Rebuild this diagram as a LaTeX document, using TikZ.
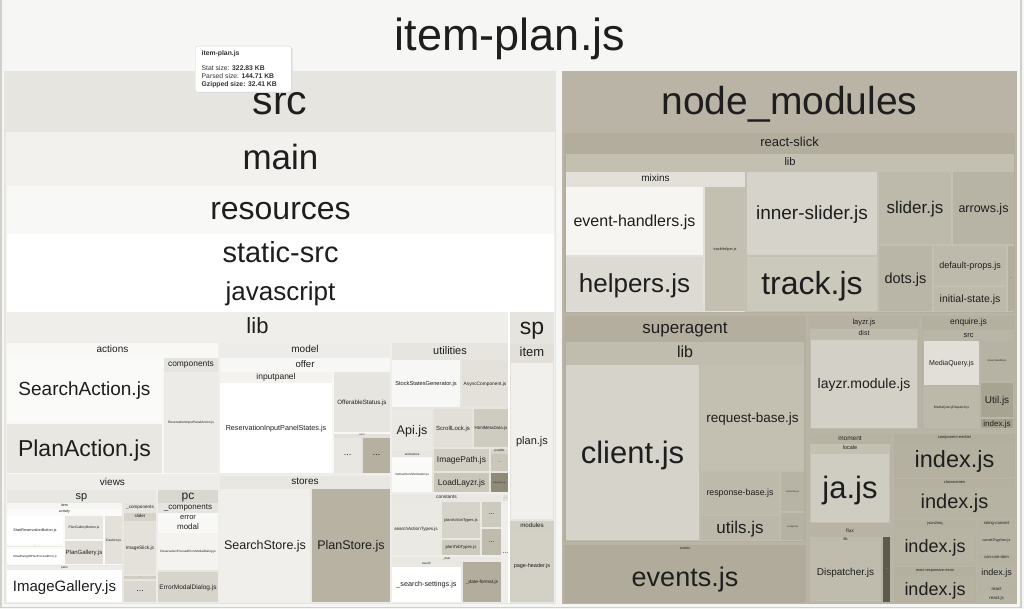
\documentclass[tikz,border=0pt]{standalone}
\usepackage{fontspec}
\setmainfont{Liberation Sans}
\newcommand\dc[2]{\definecolor{#1}{HTML}{#2}}
\dc{rootC}{F6F6F4}\dc{bordC}{CFCFCB}\dc{txt}{1E1E1E}
\dc{srcC}{E6E5E0}\dc{mainC}{F2F1EE}\dc{resC}{F8F8F6}\dc{ssC}{FFFFFF}\dc{jsC}{FFFFFF}
\dc{libC}{EFEEEA}\dc{spC}{E5E4DF}
\dc{actC}{F8F8F6}\dc{saC0}{FAFAF8}\dc{paC}{E8E7E2}\dc{compC}{E5E4DF}\dc{ripaC}{ECEBE7}
\dc{viewsC}{EEEDE9}\dc{vspC}{E8E7E2}\dc{itemC}{F5F5F2}\dc{activC}{FAFAF8}\dc{ddC}{EAE9E4}
\dc{pgbC}{E7E6E0}\dc{pgC}{E0DED7}\dc{cautC}{E3E1DA}\dc{partsC}{EDECE8}
\dc{vcompC}{E6E5E0}\dc{sliderC}{D6D3CA}\dc{islickC}{E3E1DA}\dc{dd2C}{D1CEC4}\dc{dd3C}{DAD8D0}
\dc{pcC}{D9D7CF}\dc{pccompC}{E6E5E0}\dc{pcerrC}{F8F8F6}\dc{pcmodalC}{F8F8F6}\dc{rpemdC}{F4F3F0}\dc{emdC}{D7D4CB}
\dc{modelC}{EDECE8}\dc{offerC}{F7F7F5}\dc{inputpC}{F3F2EF}\dc{ofsC}{E6E5E0}\dc{merrC}{E2E0D9}\dc{md1C}{E8E7E2}\dc{md2C}{B5B09F}
\dc{storesC}{E8E7E2}\dc{ssCC}{F0EFEB}\dc{psC}{B7B2A2}
\dc{utilC}{E6E5E0}\dc{ssgC}{F7F7F5}\dc{acC}{E3E1DA}\dc{apiC}{EAE9E4}\dc{animC}{E7E6E0}\dc{vsaC}{FAFAF8}
\dc{slC}{E1DFD8}\dc{hmdC}{CECBC0}\dc{ipC}{D1CEC3}\dc{llC}{C9C6BA}\dc{polyC}{D6D3CA}\dc{pdC}{CAC6BA}\dc{afC}{8F8B78}
\dc{constC}{E9E8E3}\dc{satC}{EAE9E4}\dc{patC}{D6D3CA}\dc{pttC}{CCC9BE}\dc{cd1C}{CCC9BE}\dc{cd2C}{BFBBAD}\dc{cd3C}{E0DED7}
\dc{datebC}{E9E8E3}\dc{searchC}{E9E8E3}\dc{dfmtC}{B2AD9C}
\dc{ritemC}{E2E0D9}\dc{planjsC}{F1F0EC}\dc{modsC}{D2CFC5}\dc{phC}{D3D0C6}
\dc{nmC}{B9B4A5}\dc{rsC}{B2AD9D}\dc{rslibC}{C3C0B2}\dc{mixC}{E2E0D8}\dc{ehC}{F6F5F2}\dc{helpC}{DCDAD2}\dc{thC}{C3C0B2}
\dc{islC}{D5D3CA}\dc{trkC}{CBC8BC}\dc{sldC}{BDB9AB}\dc{arrC}{B8B4A5}\dc{dotsC}{BAB6A7}\dc{dpC}{BDB9AB}\dc{istC}{BDB9AB}\dc{rsdC}{B3AFA0}
\dc{saaC}{B3AE9E}\dc{salibC}{C0BDAE}\dc{clC}{D5D3CA}\dc{rbC}{C3C0B2}\dc{rsbC}{BEBAAB}\dc{utC}{BCB8A9}\dc{isfC}{B8B4A5}\dc{isoC}{B6B2A3}
\dc{evC}{B0AB9A}\dc{evjsC}{B0AB9A}
\dc{lzC}{B6B2A3}\dc{distC}{BFBBAD}\dc{lzmC}{D3D1C7}
\dc{enqC}{B4B0A0}\dc{esrcC}{BAB6A7}\dc{mqC}{E1DFD8}\dc{qhC}{B7B3A4}\dc{mqdC}{BCB8AA}\dc{utlC}{A8A492}\dc{eidxC}{A3A08D}
\dc{momC}{B7B3A3}\dc{locC}{C4C1B3}\dc{jaC}{CFCCC2}
\dc{ceC}{B3AF9E}\dc{ceidxC}{B5B1A1}\dc{cnC}{B5B1A1}\dc{cnidxC}{B7B3A3}
\dc{fluxC}{B8B4A5}\dc{flibC}{BEBAAC}\dc{dispC}{BFBBAD}\dc{fdC}{5D5A4C}
\dc{jmC}{B6B2A2}\dc{jmidxC}{B8B4A4}\dc{rrmC}{B4B09F}\dc{rrmidxC}{B6B2A2}
\dc{scC}{B6B2A2}\dc{c2hC}{B8B4A5}\dc{cudC}{B6B2A2}\dc{cudidxC}{B8B4A5}\dc{rctC}{B7B3A3}\dc{rjsC}{B9B5A6}
\newcommand\gp{0.6}
\newcommand\bl{0.34}
\newcommand\fs[1]{\fontsize{#1}{#1}\selectfont}
% leaf: name, x1, y1, x2, y2, colour, font size, text
\newcommand\tmleaf[8]{\fill[#6] ({#2+\gp},{#3+\gp}) rectangle ({#4-\gp},{#5-\gp});
  \node[lbl,anchor=base,font=\fs{#7}] (#1) at ({(#2+#4)/2},{(#3+#5)/2+\bl*#7}) {#8};}
% leaf whose label is "...": name, x1, y1, x2, y2, colour, font size
\newcommand\tmdots[7]{\fill[#6] ({#2+\gp},{#3+\gp}) rectangle ({#4-\gp},{#5-\gp});
  \node[lbl,anchor=base,font=\fs{#7}] (#1) at ({(#2+#4)/2},{(#3+#5)/2+0.05*#7}) {...};}
% folder: name, x1, y1, x2, y2, colour, header height, font size, text
\newcommand\tmdir[9]{\fill[#6] ({#2+\gp},{#3+\gp}) rectangle ({#4-\gp},{#5-\gp});
  \node[lbl,anchor=base,font=\fs{#8}] (#1) at ({(#2+#4)/2},{#3+#7/2+\bl*#8}) {#9};}
\tikzset{lbl/.style={inner sep=0pt,text=txt,align=center}}
\begin{document}
\begin{tikzpicture}[x=1pt,y=-1pt]
\useasboundingbox (0,0) rectangle (1024,609);
\fill[rootC] (0,0) rectangle (1024,609);
\draw[bordC,line width=1.5pt] (1,-2) rectangle (1021,607.5);
\node[lbl,anchor=base,font=\fs{45}] (title) at (510,51) {item-plan.js};
% ---------------- src ----------------
\tmdir{src}{3}{70}{557}{605}{srcC}{62}{41}{src}
\tmdir{main}{5}{131}{556}{604}{mainC}{54}{35}{main}
\tmdir{res}{6}{185}{555}{604}{resC}{48}{32}{resources}
\tmdir{sstat}{6}{233}{555}{604}{ssC}{40}{29}{static-src}
\tmdir{jsd}{6}{272}{555}{604}{jsC}{40}{26}{javascript}
\tmdir{lib}{6}{311}{509}{604}{libC}{31}{22}{lib}
\tmdir{spr}{509}{311}{555}{604}{spC}{32}{23}{sp}
% actions
\tmdir{actions}{6}{342}{219}{475}{actC}{14}{10}{actions}
\tmleaf{sact}{6}{356}{163}{423}{saC0}{19}{SearchAction.js}
\tmleaf{pact}{6}{423}{163}{474}{paC}{23}{PlanAction.js}
\tmdir{comps}{163}{357}{219}{474}{compC}{14}{8.4}{components}
\tmleaf{ripa}{163}{371}{219}{474}{ripaC}{3.3}{ReservationInputPanelAction.js}
% views
\tmdir{views}{6}{475}{219}{604}{viewsC}{14}{10}{views}
\tmdir{vsp}{6}{489}{157}{603}{vspC}{13}{11}{sp}
\tmdir{vitem}{6}{502}{123}{566}{itemC}{6}{3.6}{item}
\tmdir{activ}{6}{508}{123}{566}{activC}{7}{3.6}{activity}
\tmleaf{srb}{6}{515}{64}{545}{white}{3.8}{StartReservationButton.js}
\tmdots{dda}{6}{545}{64}{548}{ddC}{2}
\tmleaf{idop}{6}{548}{64}{565}{white}{2.9}{InitialDialogOfPlanProceedError.js}
\tmleaf{pgb}{64}{515}{104}{540}{pgbC}{3.4}{PlanGalleryButton.js}
\tmleaf{pg}{64}{540}{104}{565}{pgC}{6}{PlanGallery.js}
\tmleaf{caut}{104}{515}{123}{565}{cautC}{3.4}{Caution.js}
\tmdir{parts}{6}{565}{123}{603}{partsC}{4}{3}{parts}
\tmleaf{ig}{6}{569}{123}{603}{white}{15}{ImageGallery.js}
\tmdir{vcomp}{123}{502}{157}{603}{vcompC}{10}{4.6}{\_components}
\tmdir{vslider}{123}{512}{157}{575}{sliderC}{8}{4.6}{slider}
\tmleaf{islick}{123}{520}{157}{575}{islickC}{4.8}{ImageSlick.js}
\tmdots{ddb}{123}{575}{157}{580}{dd2C}{2.5}
\tmdots{ddc}{123}{580}{157}{603}{dd3C}{9}
\tmdir{pc}{157}{489}{219}{603}{pcC}{13}{12}{pc}
\tmdir{pccomp}{157}{502}{219}{603}{pccompC}{10}{8}{\_components}
\tmdir{pcerr}{157}{512}{219}{571}{pcerrC}{10}{7.5}{error}
\tmdir{pcmodal}{157}{522}{219}{571}{pcmodalC}{10}{8}{modal}
\tmleaf{rpemd}{157}{532}{219}{571}{rpemdC}{3.1}{ReservationProceedErrorModalDialog.js}
\tmleaf{emd}{157}{571}{219}{603}{emdC}{6.5}{ErrorModalDialog.js}
% model
\tmdir{model}{219}{342}{391}{475}{modelC}{15}{10}{model}
\tmdir{offer}{219}{357}{391}{474}{offerC}{14}{9.5}{offer}
\tmdir{inputp}{219}{371}{333}{474}{inputpC}{11}{8.5}{inputpanel}
\tmleaf{rips}{219}{382}{333}{474}{white}{7.2}{ReservationInputPanelStates.js}
\tmleaf{ofs}{333}{371}{391}{433}{ofsC}{6.2}{OfferableStatus.js}
\tmdir{merr}{333}{433}{391}{474}{merrC}{4}{2.5}{error}
\tmdots{mda}{333}{437}{362}{474}{md1C}{9}
\tmdots{mdb}{362}{437}{391}{474}{md2C}{9}
% stores
\tmdir{stores}{219}{475}{391}{603}{storesC}{13}{10}{stores}
\tmleaf{sstore}{219}{488}{311}{603}{ssCC}{12.5}{SearchStore.js}
\tmleaf{pstore}{311}{488}{391}{603}{psC}{12.5}{PlanStore.js}
% utilities
\tmdir{util}{391}{342}{509}{493}{utilC}{17}{11}{utilities}
\tmleaf{ssg}{391}{359}{461}{408}{ssgC}{5.7}{StockStatesGenerator.js}
\tmleaf{acomp}{461}{359}{509}{408}{acC}{4.8}{AsyncComponent.js}
\tmleaf{api}{391}{408}{433}{452}{apiC}{12.5}{Api.js}
\tmdir{anim}{391}{452}{433}{493}{animC}{4.5}{3}{animations}
\tmleaf{vsa}{391}{456.5}{433}{493}{vsaC}{3}{VerticalScrollAnimation.js}
\tmleaf{slock}{433}{408}{473}{448}{slC}{6}{ScrollLock.js}
\tmleaf{hmd}{473}{408}{509}{448}{hmdC}{4.4}{HtmlMetaData.js}
\tmleaf{ipath}{433}{448}{490}{472}{ipC}{8.4}{ImagePath.js}
\tmleaf{llayzr}{433}{472}{490}{493}{llC}{8.4}{LoadLayzr.js}
\tmdir{poly}{490}{448}{509}{472}{polyC}{5}{3}{polyfills}
\tmdots{pdots}{490}{453}{509}{472}{pdC}{4}
\tmleaf{afrom}{490}{472}{509}{493}{afC}{2.2}{Array.from.js}
% constants
\tmdir{consts}{391}{493}{502}{556}{constC}{8}{4.8}{constants}
\tmleaf{sat}{391}{501}{441}{556}{satC}{4.6}{searchActionTypes.js}
\tmleaf{pat}{441}{501}{481}{539}{patC}{4}{planActionTypes.js}
\tmleaf{ptt}{441}{539}{481}{556}{pttC}{4.3}{planTabTypes.js}
\tmdots{cda}{481}{501}{502}{528}{cd1C}{7}
\tmdots{cdb}{481}{528}{502}{556}{cd2C}{7}
\tmdots{cdc}{502}{494}{509}{502}{cd3C}{2.5}
\node[lbl,anchor=base,font=\fs{7}] (cdd) at (505.5,553) {...};
\tmdir{dateb}{391}{556}{502}{603}{datebC}{5}{3}{\_date}
\tmdir{search}{391}{561}{462}{603}{searchC}{5}{3}{search}
\tmleaf{sset}{391}{566}{462}{603}{white}{7.2}{\_search-settings.js}
\tmleaf{dfmt}{462}{561}{502}{603}{dfmtC}{4.8}{\_date-format.js}
% sp (right)
\tmdir{ritem}{509}{343}{555}{520}{ritemC}{19}{13}{item}
\tmleaf{planjs}{510}{362}{554}{520}{planjsC}{11}{plan.js}
\tmdir{mods}{509}{520}{555}{603}{modsC}{10}{6.2}{modules}
\tmleaf{phead}{510}{530}{554}{602}{phC}{5.5}{page-header.js}
% ---------------- node_modules ----------------
\tmdir{nm}{561}{70}{1018}{605}{nmC}{62}{39}{node\_modules}
\tmdir{rs}{563}{132}{1016}{314}{rsC}{20}{13}{react-slick}
\tmdir{rslib}{565}{153}{1015}{313}{rslibC}{17}{11}{lib}
\tmdir{mix}{565}{171}{746}{313}{mixC}{15}{10}{mixins}
\tmleaf{eh}{565}{186}{704}{256}{ehC}{16}{event-handlers.js}
\tmleaf{help}{565}{256}{704}{312}{helpC}{26}{helpers.js}
\tmleaf{th}{704}{186}{746}{312}{thC}{3.8}{trackHelper.js}
\tmleaf{isl}{746}{171}{878}{256}{islC}{19}{inner-slider.js}
\tmleaf{trk}{746}{256}{878}{312}{trkC}{32}{track.js}
\tmleaf{sld}{878}{171}{952}{245}{sldC}{17}{slider.js}
\tmleaf{arr}{952}{171}{1015}{245}{arrC}{12.5}{arrows.js}
\tmleaf{dots}{878}{245}{933}{312}{dotsC}{14.5}{dots.js}
\tmleaf{dp}{933}{245}{1007}{286}{dpC}{9}{default-props.js}
\tmleaf{ist}{933}{286}{1007}{312}{istC}{10.5}{initial-state.js}
\tmdots{rsd}{1007}{245}{1015}{312}{rsdC}{3}
% superagent
\tmdir{sagent}{563}{315}{807}{543}{saaC}{25}{17}{superagent}
\tmdir{salib}{565}{341}{805}{542}{salibC}{23}{16}{lib}
\tmleaf{cl}{565}{364}{700}{541}{clC}{31}{client.js}
\tmleaf{rb}{700}{364}{805}{471}{rbC}{13.5}{request-base.js}
\tmleaf{rsb}{700}{471}{780}{515}{rsbC}{8.8}{response-base.js}
\tmleaf{ut}{700}{515}{780}{541}{utC}{17}{utils.js}
\tmleaf{isf}{780}{471}{805}{512}{isfC}{2.3}{is-function.js}
\tmleaf{iso}{780}{512}{805}{541}{isoC}{2.3}{is-object.js}
\tmdir{ev}{563}{544}{807}{604}{evC}{8}{3.5}{events}
\tmleaf{evjs}{564}{552}{806}{603}{evjsC}{27}{events.js}
% layzr / enquire
\tmdir{lz}{808}{315}{920}{431}{lzC}{13}{7.5}{layzr.js}
\tmdir{dist}{809}{328}{919}{430}{distC}{11}{7}{dist}
\tmleaf{lzm}{810}{339}{918}{429}{lzmC}{14}{layzr.module.js}
\tmdir{enq}{921}{315}{1016}{431}{enqC}{14}{8.5}{enquire.js}
\tmdir{esrc}{922}{329}{1015}{430}{esrcC}{11}{7.5}{src}
\tmleaf{mq}{923}{340}{980}{386}{mqC}{7}{MediaQuery.js}
\tmleaf{qh}{980}{340}{1014}{382}{qhC}{2.6}{QueryHandler.js}
\tmleaf{mqd}{923}{386}{980}{429}{mqdC}{3.4}{MediaQueryDispatch.js}
\tmleaf{utl}{980}{382}{1014}{418}{utlC}{10}{Util.js}
\tmleaf{eidx}{980}{418}{1014}{429}{eidxC}{8}{index.js}
% moment etc.
\tmdir{mom}{808}{433}{892}{525}{momC}{10}{6.5}{moment}
\tmdir{loc}{809}{443}{891}{524}{locC}{10}{5.5}{locale}
\tmleaf{ja}{810}{453}{890}{523}{jaC}{31}{ja.js}
\tmdir{ce}{893}{433}{1016}{478}{ceC}{9}{4}{component-emitter}
\tmleaf{ceidx}{894}{442}{1015}{477}{ceidxC}{23.5}{index.js}
\tmdir{cn}{893}{478}{1016}{518}{cnC}{9}{4}{classnames}
\tmleaf{cnidx}{894}{487}{1015}{517}{cnidxC}{20}{index.js}
\tmdir{flux}{808}{526}{892}{604}{fluxC}{10}{5}{flux}
\tmdir{flib}{809}{536}{882}{603}{flibC}{7}{4}{lib}
\tmleaf{disp}{810}{543}{881}{602}{dispC}{10}{Dispatcher.js}
\fill[fdC] (882.6,536.6) rectangle (890.4,602.4);
\node[lbl,anchor=base,font=\fs{3.5},text=white!75!gray] (fdots) at (886.5,569.5) {...};
\tmdir{jm}{893}{519}{977}{566}{jmC}{9}{4}{json2mq}
\tmleaf{jmidx}{894}{528}{976}{565}{jmidxC}{18}{index.js}
\tmdir{rrm}{893}{566}{977}{604}{rrmC}{9}{3.8}{react-responsive-mixin}
\tmleaf{rrmidx}{894}{575}{976}{603}{rrmidxC}{18}{index.js}
\tmdir{sc}{977}{519}{1016}{553}{scC}{9}{4.2}{string-convert}
\tmleaf{c2h}{978}{528}{1015}{552}{c2hC}{3.7}{camel2hyphen.js}
\tmdir{cud}{977}{553}{1016}{584}{cudC}{9}{4.2}{can-use-dom}
\tmleaf{cudidx}{978}{562}{1015}{583}{cudidxC}{9}{index.js}
\tmdir{rct}{977}{584}{1016}{604}{rctC}{9}{4.5}{react}
\tmleaf{rjs}{978}{593}{1015}{603}{rjsC}{4.5}{react.js}
% ---------------- tooltip ----------------
\fill[black!12,rounded corners=2pt] (196,47.5) rectangle (292.5,93);
\node[draw=black!18,fill=white,rounded corners=2pt,anchor=north west,minimum width=96pt,minimum height=46pt,inner sep=0pt] (tip) at (195,46) {};
\node[lbl,anchor=base west,font=\fs{6.8}\bfseries,text=black!80] (tipname) at (201.5,56) {item-plan.js};
\node[lbl,anchor=base west,font=\fs{6.8},text=black!80] (tipstat) at (201.5,71) {Stat size: \textbf{322.83 KB}};
\node[lbl,anchor=base west,font=\fs{6.8},text=black!80] (tipparsed) at (201.5,79) {Parsed size: \textbf{144.71 KB}};
\node[lbl,anchor=base west,font=\fs{6.8}\bfseries,text=black!80] (tipgz) at (201.5,87) {Gzipped size: 32.41 KB};
\end{tikzpicture}
\end{document}
